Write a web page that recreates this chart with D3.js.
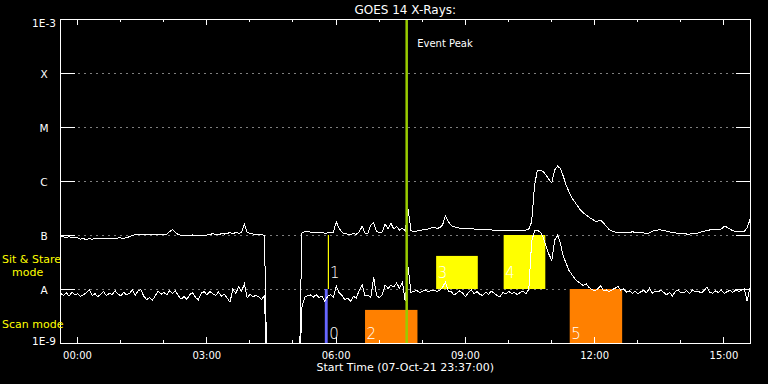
<!DOCTYPE html>
<html>
<head>
<meta charset="utf-8">
<script src="https://cdn.jsdelivr.net/npm/d3@7"></script>
<style>
  html, body { margin: 0; padding: 0; background: #000; }
  svg { display: block; }
  text { font-family: "DejaVu Sans", sans-serif; fill: #fff; }
</style>
</head>
<body>
<script>
(function(){

//time axis: GOES samples every 4 minutes from the start time
var startTime = Date.UTC(2021, 9, 7, 23, 37);
var endTime = Date.UTC(2021, 9, 8, 15, 37);
var sampleMinutes = 4;

//1-8 A channel, units of 1e-8 W/m2 (0 = data gap)
var longFlux = [
    9.2, 9.2, 9.1, 9.2, 9.1, 9.0, 8.8, 8.4, 8.5, 8.3,
    8.5, 8.4, 8.5, 8.6, 8.6, 8.7, 8.7, 8.6, 8.7, 8.7,
    8.8, 8.8, 8.7, 8.9, 9.3, 9.8, 10.1, 10.3, 10.2, 10.4,
    10.4, 10.3, 10.4, 10.3, 10.2, 10.1, 10.2, 10.4, 11.5, 12.7,
    11.0, 10.2, 9.9, 9.9, 10.0, 9.9, 10.0, 9.9, 10.0, 10.0,
    10.0, 10.0, 10.1, 10.7, 10.1, 10.0, 10.6, 10.4, 10.7, 11.1,
    10.4, 11.3, 10.7, 11.0, 15.9, 11.2, 10.6, 10.4, 10.3, 10.3,
    10.3, 9.6, 0, 0, 0, 0, 0, 0, 0, 0,
    0, 0, 0, 0, 10.8, 11.5, 11.7, 11.3, 11.2, 11.0,
    10.9, 11.0, 10.8, 10.9, 11.1, 11.3, 17.6, 13.2, 11.2, 10.5,
    10.4, 10.4, 10.5, 10.4, 11.5, 14.5, 10.8, 10.6, 15.2, 16.8,
    11.8, 11.0, 11.4, 15.9, 12.9, 16.5, 13.0, 14.3, 12.3, 13.3,
    12.0, 30.3, 12.0, 11.5, 11.8, 12.2, 12.4, 12.6, 12.9, 13.5,
    13.8, 13.3, 13.6, 15.5, 22.5, 17.6, 15.0, 14.2, 13.9, 13.4,
    13.4, 13.2, 13.1, 13.0, 12.9, 12.8, 12.9, 12.7, 12.6, 12.5,
    12.4, 12.3, 12.2, 12.1, 12.0, 12.1, 12.0, 11.9, 12.0, 12.1,
    12.0, 12.1, 12.3, 12.9, 17.4, 84, 157, 160, 150, 129,
    107, 92, 160, 189, 170, 123, 84, 63, 48.5, 41,
    34.4, 29, 25.5, 23.5, 21.3, 19.8, 18.1, 18.1, 18.9, 16.7,
    14.4, 12.6, 11.8, 11.4, 11.1, 10.9, 11.0, 10.9, 10.9, 11.5,
    11.2, 11.0, 11.0, 10.9, 10.8, 10.9, 11.8, 12.1, 12.4, 12.4,
    12.1, 11.8, 11.4, 11.0, 10.9, 10.8, 10.9, 10.7, 10.4, 10.4,
    10.7, 10.8, 10.9, 11.4, 11.7, 12.1, 12.4, 12.4, 12.4, 12.4,
    12.9, 14.4, 14.0, 12.9, 12.0, 11.7, 11.5, 11.5, 11.7, 13.5,
    19.3
];

//0.5-4 A channel, units of 1e-9 W/m2 (0 = data gap)
var shortFlux = [
    8.3, 7.6, 8.6, 7.4, 8.8, 7.9, 8.1, 7.3, 7.8, 8.5,
    9.7, 7.6, 8.2, 7.2, 8.0, 8.9, 7.5, 8.4, 7.9, 9.3,
    8.1, 7.4, 8.7, 7.8, 8.3, 9.6, 7.7, 9.2, 9.8, 7.3,
    6.4, 6.9, 6.2, 7.5, 9.1, 8.0, 8.6, 7.8, 9.4, 8.2,
    9.2, 7.5, 6.5, 7.2, 6.4, 7.9, 8.5, 7.0, 6.3, 8.4,
    8.9, 7.8, 9.0, 8.2, 7.6, 8.8, 7.4, 8.0, 6.8, 5.7,
    10.0, 8.3, 11.0, 9.0, 12.4, 6.9, 8.0, 7.2, 7.6, 7.1,
    6.4, 7.6, 0, 0, 0, 0, 0, 0, 0, 0,
    0, 0, 0, 0, 4.5, 7.0, 7.6, 7.8, 7.1, 7.8,
    6.9, 7.4, 5.9, 7.3, 7.8, 6.9, 11.3, 8.5, 7.6, 6.3,
    6.8, 5.9, 7.3, 6.8, 9.6, 11.9, 7.5, 7.7, 6.9, 16.5,
    7.6, 6.9, 7.8, 11.9, 10.2, 11.8, 10.9, 12.9, 10.3, 13.4,
    6.0, 25, 8.6, 9.0, 9.5, 8.5, 9.1, 9.6, 8.9, 9.4,
    9.6, 9.0, 9.5, 10.8, 13.5, 9.1, 9.0, 7.7, 8.5, 9.3,
    8.3, 7.3, 8.6, 9.6, 8.2, 8.9, 7.9, 7.6, 8.7, 8.0,
    9.1, 8.4, 7.5, 7.3, 8.6, 8.1, 9.0, 8.2, 8.7, 7.8,
    8.6, 9.1, 8.2, 9.8, 75, 120, 123, 113, 92, 62,
    44, 34, 80, 100, 70, 40, 30, 22, 18.5, 15.5,
    13.8, 12.6, 11.6, 12.4, 10.6, 9.8, 9.2, 10.0, 11.5, 9.4,
    9.6, 8.9, 9.7, 10.3, 11.3, 9.5, 10.0, 8.8, 9.3, 8.3,
    9.1, 8.2, 8.9, 9.4, 8.5, 10.4, 8.4, 9.2, 8.8, 9.6,
    8.6, 7.8, 8.7, 7.4, 9.0, 9.7, 8.4, 8.6, 9.3, 8.2,
    9.6, 8.8, 9.1, 8.4, 9.3, 10.9, 8.7, 8.4, 9.2, 8.6,
    9.6, 8.3, 8.9, 9.5, 8.6, 9.7, 9.0, 9.4, 10.1, 6.0,
    10.6
];

//flare class levels on the y axis
var levelValues = [1e-9, 1e-8, 1e-7, 1e-6, 1e-5, 1e-4, 1e-3];
var levelLabels = ["1E-9", "A", "B", "C", "M", "X", "1E-3"];

//observation windows (times on 08-Oct-21)
var obsLabels = ["0", "1", "2", "3", "4", "5"];
var obsKind = ["other", "stare", "scan", "stare", "stare", "scan"];
var obsStart = ["05:45", "05:50", "06:41", "08:20", "09:54", "11:26"];
var obsEnd = ["05:49", "05:50", "07:54", "09:18", "10:52", "12:39"];
var obsLow = [1e-9, 1e-8, 1e-9, 1e-8, 1e-8, 1e-9];
var obsHigh = [1e-8, 1e-7, 4.1e-9, 4.1e-8, 1e-7, 1e-8];

var eventPeak = "07:39";

var kindColor = {other: "#6666ff", stare: "#ffff00", scan: "#ff8000"};

function dayTime(s){
    var p = s.split(":");
    return new Date(Date.UTC(2021, 9, 8, +p[0], +p[1]));
}

var width = 768,
    height = 384;
var left = 60.5, right = 750, top = 19, bottom = 343;

var svg = d3.select("body")
    .append("svg")
    .attr("width", width)
    .attr("height", height)
    .style("background", "#000");

var x = d3.scaleUtc()
    .domain([new Date(startTime), new Date(endTime)])
    .range([left, right]);

var y = d3.scaleLog()
    .domain([1e-9, 1e-3])
    .range([bottom, top]);

svg.append("clipPath")
    .attr("id", "plotClip")
    .append("rect")
    .attr("x", left).attr("y", top)
    .attr("width", right - left).attr("height", bottom - top);

//dotted class grid
svg.append("g")
    .selectAll("line")
    .data(levelValues.slice(1, 6))
    .enter()
    .append("line")
    .attr("x1", left).attr("x2", right)
    .attr("y1", function(d){ return Math.round(y(d)) + 0.5; })
    .attr("y2", function(d){ return Math.round(y(d)) + 0.5; })
    .attr("stroke", "#fff")
    .attr("stroke-dasharray", "1 5");

//observation boxes
var obs = obsLabels.map(function(l, i){
    return {label: l, kind: obsKind[i], t0: dayTime(obsStart[i]), t1: dayTime(obsEnd[i]),
            lo: obsLow[i], hi: obsHigh[i]};
});

var boxes = svg.append("g");
obs.forEach(function(d){
    var x0 = x(d.t0), x1 = x(d.t1);
    if (x1 - x0 < 0.5) {
        boxes.append("line")
            .attr("x1", x0).attr("x2", x0)
            .attr("y1", y(d.lo)).attr("y2", y(d.hi))
            .attr("stroke", kindColor[d.kind])
            .attr("stroke-width", 1.2);
    } else {
        boxes.append("rect")
            .attr("x", x0).attr("width", x1 - x0)
            .attr("y", y(d.hi)).attr("height", y(d.lo) - y(d.hi))
            .attr("fill", kindColor[d.kind]);
    }
});

//GOES curves
var line = d3.line()
    .x(function(d){ return x(d.t); })
    .y(function(d){ return y(Math.max(d.f, 1e-10)); });

function series(values, unit){
    return values.map(function(v, i){
        return {t: new Date(startTime + i * sampleMinutes * 60000), f: v * unit};
    });
}

var curves = svg.append("g").attr("clip-path", "url(#plotClip)");
[series(longFlux, 1e-8), series(shortFlux, 1e-9)].forEach(function(s){
    curves.append("path")
        .datum(s)
        .attr("d", line)
        .attr("fill", "none")
        .attr("stroke", "#fff")
        .attr("stroke-width", 1)
        .attr("shape-rendering", "crispEdges");
});

//box numbers
svg.append("g")
    .selectAll("text")
    .data(obs)
    .enter()
    .append("text")
    .attr("x", function(d){
        var x0 = x(d.t0), x1 = x(d.t1);
        return (x1 - x0 < 10 ? x1 : x0) + 1.5;
    })
    .attr("y", function(d){ return d.lo < 5e-9 ? y(1e-9) - 4.5 : y(1e-8) - 11.5; })
    .style("font-size", "15px")
    .style("font-weight", "200")
    .text(function(d){ return d.label; });

//event peak marker
svg.append("line")
    .attr("x1", x(dayTime(eventPeak))).attr("x2", x(dayTime(eventPeak)))
    .attr("y1", top).attr("y2", bottom)
    .attr("stroke", "#99cc00")
    .attr("stroke-width", 2.5);

svg.append("text")
    .attr("x", x(dayTime(eventPeak)) + 10.5)
    .attr("y", 46.5)
    .style("font-size", "10px")
    .text("Event Peak");

//axes
var xMajor = d3.axisBottom(x)
    .ticks(d3.utcHour.every(3))
    .tickSizeInner(-6).tickSizeOuter(0).tickPadding(9)
    .tickFormat(d3.utcFormat("%H:%M"));
var xMinor = d3.axisBottom(x)
    .ticks(d3.utcHour.every(1))
    .tickSizeInner(-3).tickSizeOuter(0)
    .tickFormat("");

var gx = svg.append("g")
    .attr("transform", "translate(0," + bottom + ")")
    .attr("color", "#fff")
    .attr("shape-rendering", "crispEdges")
    .call(xMajor);
gx.selectAll("text").style("font-size", "10px");
svg.append("g")
    .attr("transform", "translate(0," + bottom + ")")
    .attr("color", "#fff")
    .attr("shape-rendering", "crispEdges")
    .call(xMinor);

svg.append("g")
    .attr("transform", "translate(0," + top + ")")
    .attr("color", "#fff")
    .attr("shape-rendering", "crispEdges")
    .call(d3.axisTop(x).ticks(d3.utcHour.every(3)).tickSizeInner(-6).tickSizeOuter(0).tickFormat(""));
svg.append("g")
    .attr("transform", "translate(0," + top + ")")
    .attr("color", "#fff")
    .attr("shape-rendering", "crispEdges")
    .call(d3.axisTop(x).ticks(d3.utcHour.every(1)).tickSizeInner(-3).tickSizeOuter(0).tickFormat(""));

var gy = svg.append("g")
    .attr("transform", "translate(" + left + ",0)")
    .attr("color", "#fff")
    .attr("shape-rendering", "crispEdges")
    .call(d3.axisLeft(y).tickValues(levelValues).tickSizeInner(-14).tickSizeOuter(0)
        .tickFormat(function(d, i){ return levelLabels[i]; }));
gy.selectAll("text")
    .attr("x", 44 - left)
    .attr("text-anchor", "middle")
    .attr("dy", function(d, i){ return i === 0 ? "0.1em" : (i === 6 ? "0.75em" : "0.38em"); })
    .style("font-size", "10.5px");

svg.append("g")
    .attr("transform", "translate(" + right + ",0)")
    .attr("color", "#fff")
    .attr("shape-rendering", "crispEdges")
    .call(d3.axisRight(y).tickValues(levelValues).tickSizeInner(-14).tickSizeOuter(0).tickFormat(""));

svg.selectAll(".domain").remove();

//frame
svg.append("rect")
    .attr("x", left).attr("y", top)
    .attr("width", right - left).attr("height", bottom - top)
    .attr("fill", "none")
    .attr("stroke", "#fff")
    .attr("shape-rendering", "crispEdges");

//titles
svg.append("text")
    .attr("x", (left + right) / 2)
    .attr("y", 14)
    .attr("text-anchor", "middle")
    .style("font-size", "12px")
    .text("GOES 14 X-Rays:");

svg.append("text")
    .attr("x", (left + right) / 2)
    .attr("y", 371)
    .attr("text-anchor", "middle")
    .style("font-size", "11px")
    .text("Start Time (07-Oct-21 23:37:00)");

//mode labels
var modeText = svg.append("g").style("font-size", "11px");
modeText.append("text").attr("x", 2).attr("y", 262.5).style("fill", "#ffff00").text("Sit & Stare");
modeText.append("text").attr("x", 12).attr("y", 275.5).style("fill", "#ffff00").text("mode");
modeText.append("text").attr("x", 2).attr("y", 328).style("fill", "#ffff00").text("Scan mode");

})();
</script>
</body>
</html>
